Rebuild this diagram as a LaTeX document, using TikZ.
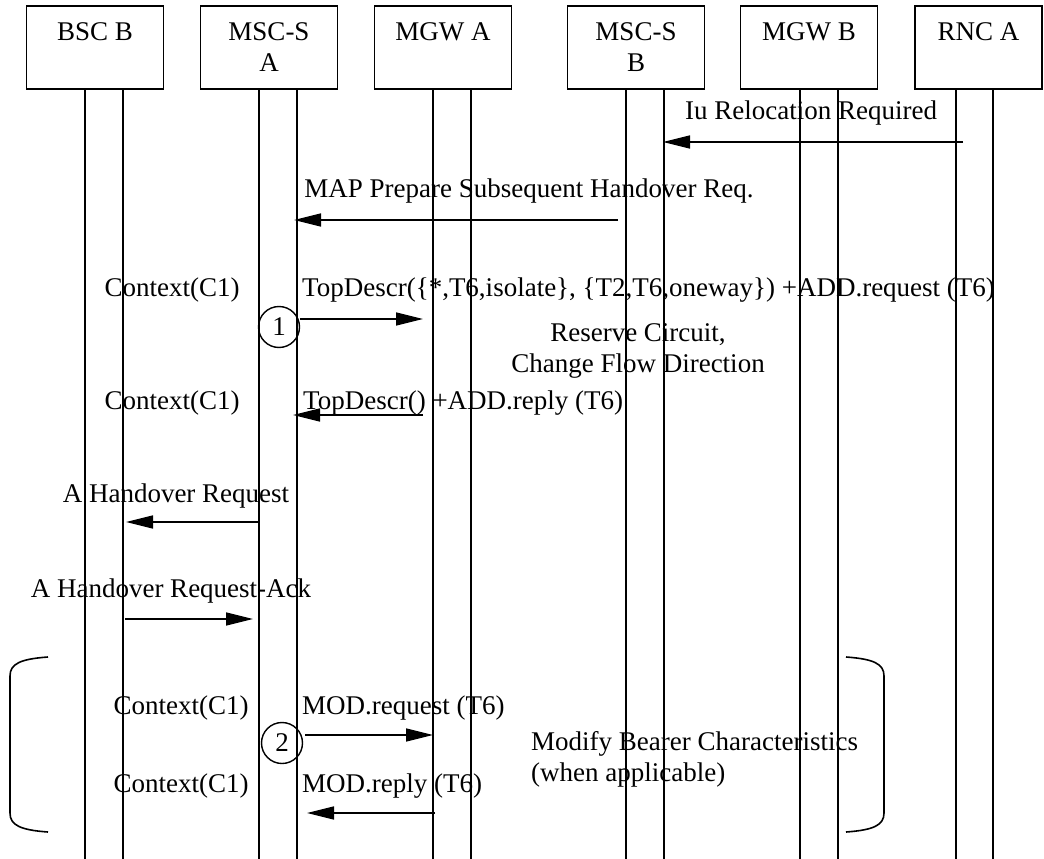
\documentclass[tikz,border=0pt]{standalone}
\usepackage{fontspec}
\setmainfont{Liberation Serif}
\usetikzlibrary{arrows.meta,positioning}

\tikzset{
  entity/.style={draw,line width=1.6pt,minimum width=137pt,minimum height=83pt,align=center,inner sep=0pt},
  life/.style={line width=1.6pt},
  msg/.style={line width=1.6pt,-{Triangle[length=27pt,width=13pt]}},
  lbl/.style={inner sep=0pt,anchor=base},
  lblw/.style={inner sep=0pt,anchor=base west},
  stepnum/.style={draw,circle,line width=1.4pt,minimum size=41pt,inner sep=0pt},
  bracket/.style={line width=1.6pt}
}

\begin{document}
\begin{tikzpicture}[x=1pt,y=-1pt,font=\fontsize{27}{31}\selectfont]
    \useasboundingbox (0,0) rectangle (1044,859);
    % Entities
    \node[entity] (bsc)  at (95,47.5)  {BSC B\\\mbox{}};
    \node[entity] (mscA) at (269,47.5) {MSC-S\\A};
    \node[entity] (mgwA) at (443,47.5) {MGW A\\\mbox{}};
    \node[entity] (mscB) at (636,47.5) {MSC-S\\B};
    \node[entity] (mgwB) at (809,47.5) {MGW B\\\mbox{}};
    \node[entity,minimum width=127pt] (rnc) at (978.5,47.5) {RNC A\\\mbox{}};
    % Lifelines
    \foreach \x in {85,123,259,297,433,471,626,664,800,838,956,993}
        \draw[life] (\x,89) -- (\x,859);
    % Brackets round the bearer modification
    \draw[bracket] (48,657) .. controls (20,659) and (10,664) .. (10,676) -- (10,813) .. controls (10,825) and (20,830) .. (48,832);
    \draw[bracket] (846,657) .. controls (874,659) and (884,664) .. (884,676) -- (884,813) .. controls (884,825) and (874,830) .. (846,832);
    % Message end points
    \coordinate (iuS)   at (963,142);  \coordinate (iuE)   at (663,142);
    \coordinate (mapS)  at (618,220);  \coordinate (mapE)  at (294,220);
    \coordinate (addS)  at (300,319);  \coordinate (addE)  at (423,319);
    \coordinate (arpS)  at (423,415);  \coordinate (arpE)  at (293,415);
    \coordinate (hoS)   at (259,522);  \coordinate (hoE)   at (126,522);
    \coordinate (ackS)  at (125,619);  \coordinate (ackE)  at (253,619);
    \coordinate (modS)  at (305,735);  \coordinate (modE)  at (433,735);
    \coordinate (mrpS)  at (435,813);  \coordinate (mrpE)  at (307,813);
    \foreach \s/\e in {iuS/iuE,mapS/mapE,addS/addE,arpS/arpE,hoS/hoE,ackS/ackE,modS/modE,mrpS/mrpE}
        \draw[msg] (\s) -- (\e);
    % Procedure numbers
    \node[stepnum] (n1) at (279,327) {1};
    \node[stepnum] (n2) at (282,743) {2};
    % Message labels
    \node[lbl]  (iuT)   at (811,119) {Iu Relocation Required};
    \node[lbl]  (mapT)  at (529,197) {MAP Prepare Subsequent Handover Req.};
    \node[lbl]  (ctx1)  at (172,296) {Context(C1)};
    \node[lblw] (addT)  at (302,296) {TopDescr(\{*,T6,isolate\}, \{T2,T6,oneway\}) +ADD.request (T6)};
    \node[lbl,align=center] (resT) at (638,372) {Reserve Circuit,\\Change Flow Direction};
    \node[lbl]  (ctx2)  at (172,409) {Context(C1)};
    \node[lblw] (arpT)  at (303,409) {TopDescr() +ADD.reply (T6)};
    \node[lbl]  (hoT)   at (176,502) {A Handover Request};
    \node[lbl]  (ackT)  at (171,597) {A Handover Request-Ack};
    \node[lbl]  (ctx3)  at (181,714) {Context(C1)};
    \node[lblw] (modT)  at (302,714) {MOD.request (T6)};
    \node[lbl]  (ctx4)  at (181,792) {Context(C1)};
    \node[lblw] (mrpT)  at (302,792) {MOD.reply (T6)};
    \node[lblw,align=left] (bearT) at (531,781) {Modify Bearer Characteristics\\(when applicable)};
\end{tikzpicture}
\end{document}
